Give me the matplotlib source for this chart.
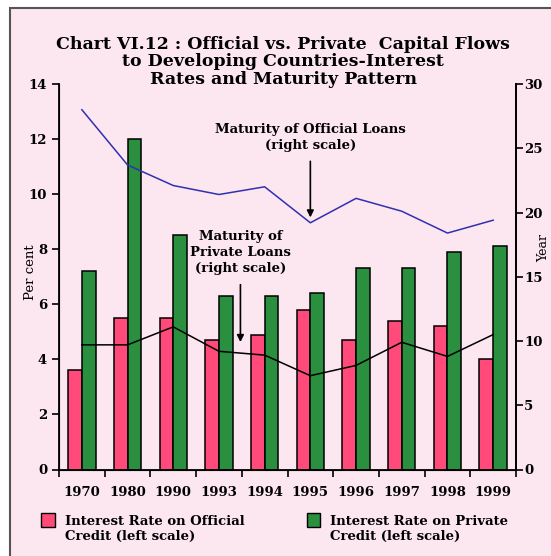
import matplotlib
matplotlib.use("Agg")
import matplotlib.pyplot as plt
import numpy as np
from matplotlib.patches import Rectangle

# data
years = ["1970", "1980", "1990", "1993", "1994", "1995", "1996", "1997", "1998", "1999"]
rate_official = [3.6, 5.5, 5.5, 4.7, 4.9, 5.8, 4.7, 5.4, 5.2, 4.0]
rate_private = [7.2, 12.0, 8.5, 6.3, 6.3, 6.4, 7.3, 7.3, 7.9, 8.1]
maturity_official = [28.0, 23.7, 22.1, 21.4, 22.0, 19.2, 21.1, 20.1, 18.4, 19.4]
maturity_private = [9.7, 9.7, 11.1, 9.2, 8.9, 7.3, 8.1, 9.9, 8.8, 10.5]

plt.rcParams["font.family"] = "DejaVu Serif"
plt.rcParams["font.weight"] = "bold"

W, H = 551, 556
fig = plt.figure(figsize=(W / 100, H / 100), dpi=100)
fig.patch.set_facecolor("white")

# pink panel with frame (right/bottom edges run off the picture)
fig.patches.append(Rectangle((10 / W, -0.01), 1.0, 1 - 8 / H + 0.01,
                             transform=fig.transFigure, facecolor="#fce6f0",
                             edgecolor="#555555", linewidth=1.5, zorder=-10))

ax = fig.add_axes([59 / W, 1 - 469.5 / H, (516 - 59) / W, (469.5 - 84) / H])
ax.set_facecolor("none")
x = np.arange(len(years))
bw = 0.3
ax.bar(x - bw / 2, rate_official, bw, color="#ff4a7a", edgecolor="black", linewidth=1.1, zorder=2)
ax.bar(x + bw / 2, rate_private, bw, color="#2a8f3f", edgecolor="black", linewidth=1.1, zorder=2)
ax.set_xlim(-0.5, len(years) - 0.5)
ax.set_ylim(0, 14)
ax.set_yticks(range(0, 15, 2))
ax.set_xticks(x)
ax.set_xticklabels(years)
ax.set_xticks(np.arange(-0.5, len(years)), minor=True)
ax.tick_params(axis="x", which="major", length=0, pad=12, labelsize=9.5)
ax.tick_params(axis="x", which="minor", length=5, width=1.2, direction="out")
ax.tick_params(axis="y", length=5, width=1.2, direction="out", labelsize=9.5)
ax.spines["top"].set_visible(False)
for s in ("left", "bottom", "right"):
    ax.spines[s].set_linewidth(1.3)
ax.set_ylabel("Per cent", fontsize=9.5)
ax.yaxis.set_label_coords(-0.048, 0.512)

ax2 = ax.twinx()
ax2.set_ylim(0, 30)
ax2.set_yticks(range(0, 31, 5))
ax2.tick_params(axis="y", length=5, width=1.2, direction="out", labelsize=9.5, pad=1)
ax2.spines["top"].set_visible(False)
ax2.spines["right"].set_linewidth(1.3)
ax2.plot(x, maturity_official, color="#3030b0", linewidth=1.1, zorder=3)
ax2.plot(x, maturity_private, color="black", linewidth=1.1, zorder=3)
ax2.set_ylabel("Year", fontsize=9, rotation=90)
ax2.yaxis.set_label_coords(1.047, 0.575)

ax2.annotate("", xy=(5.0, 19.4), xytext=(5.0, 24.2),
             arrowprops=dict(arrowstyle="-|>", color="black", lw=1.2, mutation_scale=10))
ax2.text(5.0, 25.8, "Maturity of Official Loans\n(right scale)", ha="center", va="center",
         fontsize=9.5, linespacing=1.3)
ax2.annotate("", xy=(3.47, 9.7), xytext=(3.47, 14.6),
             arrowprops=dict(arrowstyle="-|>", color="black", lw=1.2, mutation_scale=10))
ax2.text(3.47, 16.9, "Maturity of\nPrivate Loans\n(right scale)", ha="center", va="center",
         fontsize=9.5, linespacing=1.3)

fig.text(283 / W, 1 - 62 / H,
         "Chart VI.12 : Official vs. Private  Capital Flows\nto Developing Countries-Interest\nRates and Maturity Pattern",
         ha="center", va="center", fontsize=12.5, linespacing=1.05)

# legend
fig.patches.append(Rectangle((41 / W, 1 - 527 / H), 14 / W, 14 / H, transform=fig.transFigure,
                             facecolor="#ff4a7a", edgecolor="black", linewidth=1.0, zorder=3))
fig.text(65 / W, 1 - 529 / H, "Interest Rate on Official\nCredit (left scale)", ha="left",
         va="center", fontsize=9.5, linespacing=1.25)
fig.patches.append(Rectangle((307 / W, 1 - 527 / H), 13 / W, 14 / H, transform=fig.transFigure,
                             facecolor="#2a8f3f", edgecolor="black", linewidth=1.0, zorder=3))
fig.text(330 / W, 1 - 529 / H, "Interest Rate on Private\nCredit (left scale)", ha="left",
         va="center", fontsize=9.5, linespacing=1.25)

fig.savefig("out.png", dpi=100)
